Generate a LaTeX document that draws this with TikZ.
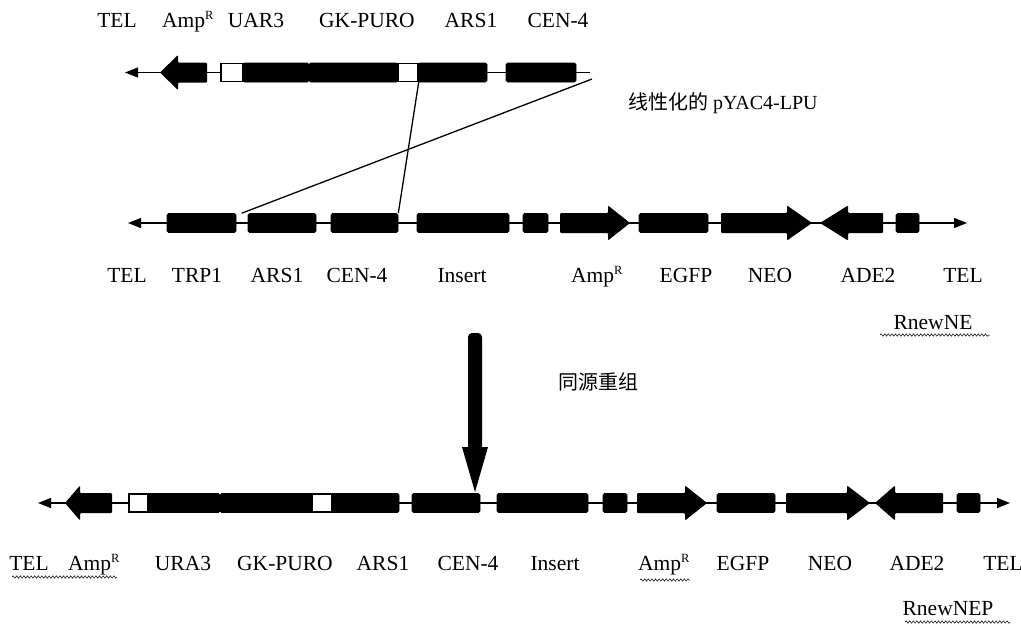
\documentclass[tikz,border=0pt]{standalone}
\usepackage{fontspec}
\setmainfont{Liberation Serif}
\newfontfamily\cjk{Noto Sans CJK SC}
\usetikzlibrary{arrows.meta,decorations.pathmorphing}
\tikzset{
  blk/.style={fill=black, draw=black, rounded corners=1.5pt, minimum height=19pt, inner sep=0pt, line width=0.6pt},
  wht/.style={fill=white, draw=black, line width=1.4pt, minimum height=18pt, inner sep=0pt},
  bb/.style={line width=1.4pt},
  lt/.style={{Triangle[length=13pt,width=10pt]}-},
  lrt/.style={{Triangle[length=13pt,width=10pt]}-{Triangle[length=13pt,width=10pt]}},
  lbl/.style={font=\fontsize{21.5}{24}\selectfont, inner sep=0pt, anchor=base},
  cjklbl/.style={font=\fontsize{20}{24}\selectfont, inner sep=0pt, anchor=west},
  wavy/.style={decorate, decoration={snake, amplitude=1.2pt, segment length=3.6pt}, line width=0.5pt},
  cross/.style={line width=1.3pt},
}
\newcommand\supR{\textsuperscript{\fontsize{12.5}{13}\selectfont R}}
% right-pointing gene arrow: body start, head base, tip, y
\newcommand\genR[4]{\fill[rounded corners=1pt] (#1,#4-10) -- (#2,#4-10) -- (#2,#4-17.5) -- (#3,#4) -- (#2,#4+17.5) -- (#2,#4+10) -- (#1,#4+10) -- cycle;}
% left-pointing gene arrow: tip, head base, body end, y
\newcommand\genL[4]{\fill[rounded corners=1pt] (#3,#4-10) -- (#2,#4-10) -- (#2,#4-17.5) -- (#1,#4) -- (#2,#4+17.5) -- (#2,#4+10) -- (#3,#4+10) -- cycle;}
\begin{document}
\begin{tikzpicture}[x=1pt,y=-1pt]
\useasboundingbox (0,0) rectangle (1021,627);

% ---------- top row: linearised pYAC4-LPU ----------
\coordinate (tL) at (125,72.5);
\coordinate (tR) at (590,72.5);
\draw[bb,lt] (tL) -- (tR);
\genL{160}{178}{207}{72.5}
\node[wht, minimum width=22pt] (tW1) at (232,72.5) {};
\node[blk, minimum width=66pt] (tURA) at (276,72.5) {};
\node[blk, minimum width=89pt] (tGK) at (353.5,72.5) {};
\node[wht, minimum width=20pt] (tW2) at (408,72.5) {};
\node[blk, minimum width=69pt] (tARS) at (452.5,72.5) {};
\node[blk, minimum width=70pt] (tCEN) at (541,72.5) {};

\node[lbl] (lt1) at (117,27) {TEL};
\node[lbl] (lt2) at (188,27) {Amp\supR};
\node[lbl] (lt3) at (256,27) {UAR3};
\node[lbl] (lt4) at (367,27) {GK-PURO};
\node[lbl] (lt5) at (471,27) {ARS1};
\node[lbl] (lt6) at (558,27) {CEN-4};
\node[cjklbl] (lpyac) at (628,103) {{\cjk 线性化的} pYAC4-LPU};

% ---------- middle row: RnewNE ----------
\coordinate (mL) at (128,223);
\coordinate (mR) at (967,223);
\draw[bb,lrt] (mL) -- (mR);
\node[blk, minimum width=69pt] (mTRP) at (201.5,223) {};
\node[blk, minimum width=68pt] (mARS) at (282,223) {};
\node[blk, minimum width=67pt] (mCEN) at (364.5,223) {};
\node[blk, minimum width=92pt] (mINS) at (463,223) {};
\node[blk, minimum width=25pt] (mS1) at (535.5,223) {};
\genR{560}{608}{630}{223}
\node[blk, minimum width=69pt] (mEGFP) at (673.5,223) {};
\genR{721}{787}{812}{223}
\genL{820}{848}{883}{223}
\node[blk, minimum width=23pt] (mS2) at (907.5,223) {};

% crossing lines (homologous arms)
\coordinate (tEnd) at (592,79);
\draw[cross] (tW2.south east) -- (mCEN.north east);
\draw[cross] (tEnd) -- ([xshift=-6pt]mARS.north west);

\node[lbl] (lm1) at (127,282) {TEL};
\node[lbl] (lm2) at (197,282) {TRP1};
\node[lbl] (lm3) at (277,282) {ARS1};
\node[lbl] (lm4) at (357,282) {CEN-4};
\node[lbl] (lm5) at (462,282) {Insert};
\node[lbl] (lm6) at (597,282) {Amp\supR};
\node[lbl] (lm7) at (686,282) {EGFP};
\node[lbl] (lm8) at (770,282) {NEO};
\node[lbl] (lm9) at (868,282) {ADE2};
\node[lbl] (lm10) at (963,282) {TEL};
\node[lbl] (lmN) at (933,329) {RnewNE};
\draw[wavy] (880,335) -- (990,335);

% ---------- big arrow ----------
\fill[rounded corners=4pt] (468,450) -- (468,333) -- (482,333) -- (482,450) -- cycle;
\fill (462,447) -- (488,447) -- (475,492) -- cycle;
\node[cjklbl] (lhr) at (558,382) {\cjk 同源重组};

% ---------- bottom row: RnewNEP ----------
\coordinate (bL) at (38,503);
\coordinate (bR) at (1010,503);
\draw[bb,lrt] (bL) -- (bR);
\genL{65}{80}{112}{503}
\node[wht, minimum width=19pt] (bW1) at (138.5,503) {};
\node[blk, minimum width=72pt] (bURA) at (184,503) {};
\node[blk, minimum width=92pt] (bGK) at (266,503) {};
\node[wht, minimum width=20pt] (bW2) at (322,503) {};
\node[blk, minimum width=67pt] (bARS) at (365.5,503) {};
\node[blk, minimum width=68pt] (bCEN) at (446,503) {};
\node[blk, minimum width=91pt] (bINS) at (542.5,503) {};
\node[blk, minimum width=24pt] (bS1) at (615,503) {};
\genR{637}{685}{707}{503}
\node[blk, minimum width=58pt] (bEGFP) at (746,503) {};
\genR{786}{847}{870}{503}
\genL{875}{895}{943}{503}
\node[blk, minimum width=23pt] (bS2) at (968.5,503) {};

\node[lbl] (lb1) at (29,570) {TEL};
\node[lbl] (lb2) at (94,570) {Amp\supR};
\node[lbl] (lb3) at (183,570) {URA3};
\node[lbl] (lb4) at (285,570) {GK-PURO};
\node[lbl] (lb5) at (383,570) {ARS1};
\node[lbl] (lb6) at (468,570) {CEN-4};
\node[lbl] (lb7) at (555,570) {Insert};
\node[lbl] (lb8) at (664,570) {Amp\supR};
\node[lbl] (lb9) at (743,570) {EGFP};
\node[lbl] (lb10) at (830,570) {NEO};
\node[lbl] (lb11) at (917,570) {ADE2};
\node[lbl] (lb12) at (1003,570) {TEL};
\node[lbl] (lbN) at (948,615) {RnewNEP};
\draw[wavy] (12,577) -- (117,577);
\draw[wavy] (640,580) -- (690,580);
\draw[wavy] (905,622) -- (1010,622);
\end{tikzpicture}
\end{document}
